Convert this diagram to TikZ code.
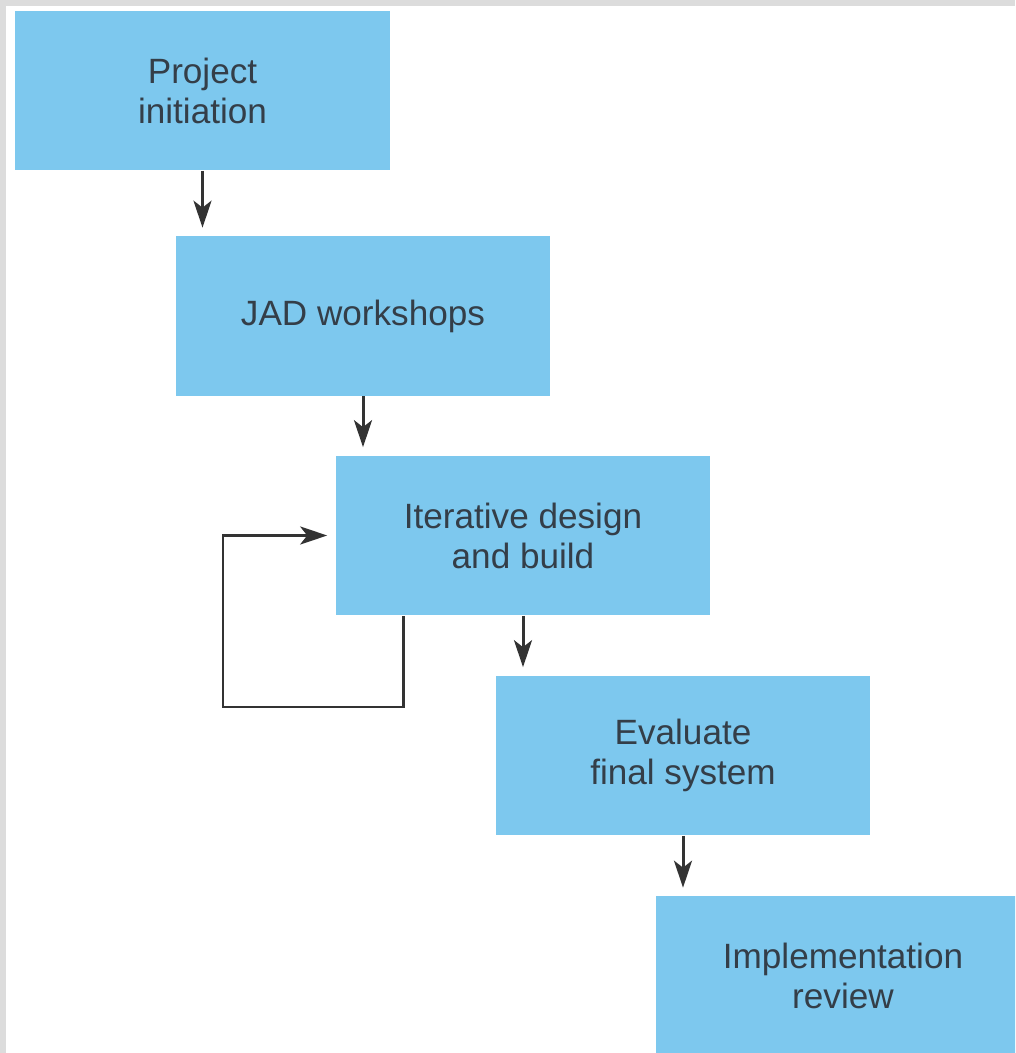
\documentclass[tikz,border=0pt]{standalone}
\usepackage{fontspec}
\setmainfont{Liberation Sans}
\usetikzlibrary{arrows.meta}
\definecolor{boxblue}{RGB}{125,200,238}
\definecolor{labelgray}{RGB}{52,62,72}
\definecolor{linegray}{RGB}{51,51,51}
\definecolor{framegray}{RGB}{220,220,220}
\begin{document}
\begin{tikzpicture}[x=0.02cm,y=-0.02cm,
  stage/.style={fill=boxblue, draw=none, minimum width=7.5cm, minimum height=3.2cm,
    inner sep=0pt, align=center, text=labelgray,
    font=\fontsize{20}{22.8}\selectfont},
  flow/.style={draw=linegray, line width=1.7pt,
    -{Stealth[length=5.4mm, width=3.6mm, inset=1.4mm]}, shorten >=0.16cm}]
  % page frame: grey margin on the left and top
  \clip (0,0) rectangle (1015,1053);
  \fill[framegray] (0,0) rectangle (1015,1053);
  \fill[white] (6,6) rectangle (1015,1053);

  % process stages
  \node[stage] (b1) at (202.5,90.5)  {Project\\initiation};
  \node[stage] (b2) at (363,316)     {JAD workshops};
  \node[stage] (b3) at (523,535.5)   {Iterative design\\and build};
  \node[stage] (b4) at (683,755.5)   {Evaluate\\final system};
  \node[stage] (b5) at (843,976)     {Implementation\\review};

  % connectors between stages
  \draw[flow] (b1.south) -- (b1.south |- b2.north);
  \draw[flow] (b2.south) -- (b2.south |- b3.north);
  \draw[flow] (b3.south) -- (b3.south |- b4.north);
  \draw[flow] (b4.south) -- (b4.south |- b5.north);

  % iteration loop back into the design stage
  \coordinate (loopstart) at (403,616);
  \coordinate (loopcorner) at (223,707);
  \draw[flow] (loopstart) |- (loopcorner) |- (b3.west);
\end{tikzpicture}
\end{document}
